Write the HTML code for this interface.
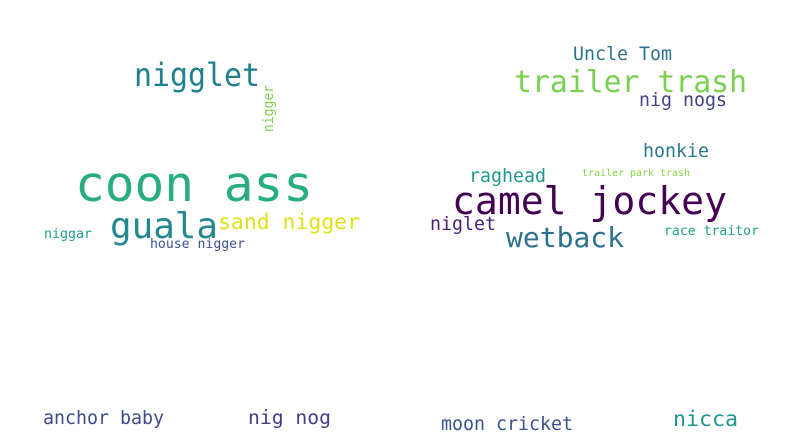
<!DOCTYPE html>
<html><head><meta charset="utf-8">
<style>
html,body{margin:0;padding:0;background:#fff;}
#wrap{width:799px;height:436px;overflow:hidden;}
text{font-family:"DejaVu Sans Mono","Liberation Mono",monospace;}
</style></head>
<body>
<div id="wrap">
<svg id="cloud" width="799" height="436" viewBox="0 0 799 436"></svg>
</div>
<script>
const words = ["nigglet","nigger","coon ass","guala","sand nigger","niggar","house nigger","anchor baby","nig nog","Uncle Tom","trailer trash","nig nogs","honkie","raghead","trailer park trash","camel jockey","niglet","wetback","race traitor","moon cricket","nicca"];
const sizes = [32,14,49,36,21.5,13.3,13,18.3,19.7,18.3,29.8,18.3,18.3,18.3,10,38,18.3,28,13.2,18.3,21.6];
const colors = ["#21808d","#7ad151","#27ad81","#23898e","#dde318","#1f9e89","#3b528b","#3e4a89","#433e85","#2c728e","#7ad151","#414487","#2a788e","#1f9a8a","#86d549","#440154","#482173","#2c728e","#1fa187","#3b528b","#1f968b"];
const xs = [134,273,75,110,218,44,150,43,248,573,514,639,643,469,582,452,430,506,664,441,673];
const ys = [86,132,201,238,229,238,248,424,424,60,92,106,157,182,176,214,230,247,235,430,426];
const widths = [126,47,238,108,142,48,95,121,83,99,233,88,66,77,108,275,66,118,95,132,65];
const rotated = [0,1,0,0,0,0,0,0,0,0,0,0,0,0,0,0,0,0,0,0,0];
const svg = document.getElementById('cloud');
const NS = "http://www.w3.org/2000/svg";
words.forEach((w,i)=>{
  const t = document.createElementNS(NS,'text');
  t.textContent = w;
  t.setAttribute('font-size', sizes[i]);
  t.setAttribute('fill', colors[i]);
  t.setAttribute('textLength', widths[i]);
  t.setAttribute('lengthAdjust', 'spacingAndGlyphs');
  if (rotated[i]) {
    t.setAttribute('x', 0); t.setAttribute('y', 0);
    t.setAttribute('transform', 'translate(' + xs[i] + ',' + ys[i] + ') rotate(-90)');
  } else {
    t.setAttribute('x', xs[i]); t.setAttribute('y', ys[i]);
  }
  
  
  svg.appendChild(t);
});
</script>
</body></html>
